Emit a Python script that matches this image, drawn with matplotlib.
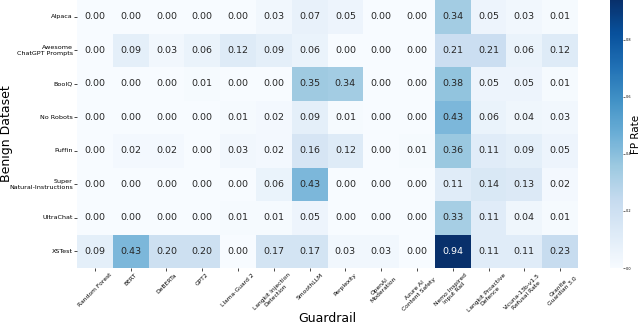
import numpy as np
import matplotlib
matplotlib.use('Agg')
import matplotlib.pyplot as plt
import seaborn as sns

datasets = ['Alpaca', 'Awesome\nChatGPT Prompts', 'BoolQ', 'No Robots', 'Puffin',
            'Super\nNatural-Instructions', 'UltraChat', 'XSTest']
guardrails = ['Random Forest', 'BERT', 'DeBERTa', 'GPT2', 'Llama-Guard 2',
              'Langkit Injection\nDetection', 'SmoothLLM', 'Perplexity', 'OpenAI\nModeration',
              'Azure AI\nContent Safety', 'Nemo Inspired\nInput Rail', 'Langkit Proactive\nDefence',
              'Vicuna-13b-v1.5\nRefusal Rate', 'Granite\nGuardian 3.0']

alpaca = [0.00, 0.00, 0.00, 0.00, 0.00, 0.03, 0.07, 0.05, 0.00, 0.00, 0.34, 0.05, 0.03, 0.01]
awesome = [0.00, 0.09, 0.03, 0.06, 0.12, 0.09, 0.06, 0.00, 0.00, 0.00, 0.21, 0.21, 0.06, 0.12]
boolq = [0.00, 0.00, 0.00, 0.01, 0.00, 0.00, 0.35, 0.34, 0.00, 0.00, 0.38, 0.05, 0.05, 0.01]
no_robots = [0.00, 0.00, 0.00, 0.00, 0.01, 0.02, 0.09, 0.01, 0.00, 0.00, 0.43, 0.06, 0.04, 0.03]
puffin = [0.00, 0.02, 0.02, 0.00, 0.03, 0.02, 0.16, 0.12, 0.00, 0.01, 0.36, 0.11, 0.09, 0.05]
super_ni = [0.00, 0.00, 0.00, 0.00, 0.00, 0.06, 0.43, 0.00, 0.00, 0.00, 0.11, 0.14, 0.13, 0.02]
ultrachat = [0.00, 0.00, 0.00, 0.00, 0.01, 0.01, 0.05, 0.00, 0.00, 0.00, 0.33, 0.11, 0.04, 0.01]
xstest = [0.09, 0.43, 0.20, 0.20, 0.00, 0.17, 0.17, 0.03, 0.03, 0.00, 0.94, 0.11, 0.11, 0.23]

fp = np.array([alpaca, awesome, boolq, no_robots, puffin, super_ni, ultrachat, xstest])

fig = plt.figure(figsize=(6.4, 3.24), dpi=100)
# heatmap spans roughly x 77..578, y 0..268 px
ax = fig.add_axes([77 / 640, 56 / 324, 501 / 640, 268 / 324])
cax = fig.add_axes([610 / 640, 56 / 324, 13 / 640, 268 / 324])

sns.heatmap(fp, ax=ax, cbar_ax=cax, cmap='Blues', annot=True, fmt='.2f',
            annot_kws={'fontsize': 6.8}, xticklabels=guardrails, yticklabels=datasets,
            cbar_kws={'label': 'FP Rate'})

ax.set_xticklabels(guardrails, rotation=45, ha='center', fontsize=4.3)
ax.set_yticklabels(datasets, rotation=0, fontsize=4.6)
ax.tick_params(axis='both', length=2, width=0.5, pad=1)
ax.set_xlabel('Guardrail', fontsize=9)
ax.set_ylabel('Benign Dataset', fontsize=9)
ax.xaxis.set_label_coords(0.5, -0.166)
ax.yaxis.set_label_coords(-0.128, 0.5)

cax.tick_params(labelsize=2.5, length=1.5, width=0.4, pad=0.5)
cax.yaxis.label.set_size(7.5)
cax.yaxis.set_label_coords(1.62, 0.5)

fig.savefig('out.png', dpi=100)
